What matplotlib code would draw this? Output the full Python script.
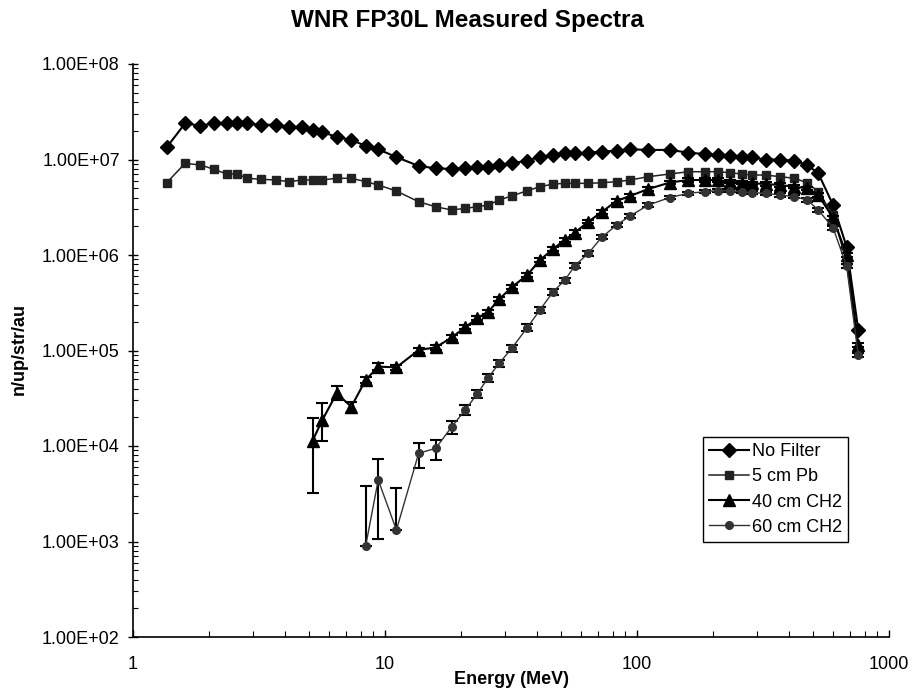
import numpy as np
import matplotlib
matplotlib.use("Agg")
from matplotlib import pyplot as plt
from matplotlib import ticker

plt.rcParams['font.family'] = ['Liberation Sans', 'DejaVu Sans']

# energy bins (MeV), shared by all four spectra
energy = [1.36, 1.61, 1.85, 2.10, 2.35, 2.59, 2.84, 3.22, 3.69, 4.17, 4.67, 5.16, 5.64,
          6.43, 7.35, 8.38, 9.40, 11.1, 13.6, 15.9, 18.4, 20.8, 23.2, 25.7, 28.4, 31.8,
          36.7, 41.2, 46.5, 51.8, 56.7, 64.1, 72.4, 83.0, 93.8, 111, 135, 160, 186, 210,
          234, 260, 285, 324, 369, 421, 474, 524, 600, 679, 755]

no_filter = [1.34e7, 2.39e7, 2.26e7, 2.39e7, 2.39e7, 2.39e7, 2.39e7, 2.31e7, 2.31e7, 2.20e7,
             2.20e7, 2.04e7, 1.93e7, 1.73e7, 1.60e7, 1.39e7, 1.28e7, 1.06e7, 8.55e6, 8.09e6,
             7.96e6, 8.09e6, 8.28e6, 8.41e6, 8.69e6, 9.12e6, 9.71e6, 1.07e7, 1.11e7, 1.16e7,
             1.16e7, 1.18e7, 1.21e7, 1.24e7, 1.28e7, 1.26e7, 1.26e7, 1.18e7, 1.14e7, 1.11e7,
             1.09e7, 1.07e7, 1.05e7, 1.00e7, 1.00e7, 9.71e6, 8.75e6, 7.16e6, 3.34e6, 1.22e6,
             1.64e5]

pb5 = [5.71e6, 9.12e6, 8.76e6, 7.89e6, 7.05e6, 7.05e6, 6.36e6, 6.21e6, 6.10e6, 5.86e6,
       6.10e6, 6.10e6, 6.10e6, 6.36e6, 6.36e6, 5.86e6, 5.41e6, 4.68e6, 3.61e6, 3.20e6,
       2.96e6, 3.08e6, 3.20e6, 3.34e6, 3.77e6, 4.15e6, 4.71e6, 5.19e6, 5.54e6, 5.63e6,
       5.63e6, 5.63e6, 5.71e6, 5.85e6, 6.10e6, 6.61e6, 7.05e6, 7.45e6, 7.45e6, 7.45e6,
       7.27e6, 7.05e6, 6.88e6, 6.88e6, 6.61e6, 6.36e6, 5.71e6, 4.60e6, 2.62e6, 8.45e5,
       1.01e5]

# 40 cm CH2 starts at 5.16 MeV
ch40 = [1.14e4, 1.87e4, 3.56e4, 2.58e4, 4.91e4, 6.77e4, 6.67e4, 1.01e5, 1.08e5, 1.37e5,
        1.75e5, 2.17e5, 2.55e5, 3.44e5, 4.59e5, 6.17e5, 8.86e5, 1.16e6, 1.44e6, 1.72e6,
        2.23e6, 2.82e6, 3.68e6, 4.15e6, 4.91e6, 5.74e6, 6.10e6, 6.10e6, 6.10e6, 5.85e6,
        5.71e6, 5.63e6, 5.54e6, 5.41e6, 5.19e6, 4.99e6, 4.25e6, 2.44e6, 1.00e6, 1.14e5]
ch40_up = [74, 50, 19, 13, 8, 9, 6, 6, 6, 6,
           5, 5, 5, 5, 5, 5, 5, 5, 5, 5,
           4, 4, 4, 4, 4, 4, 4, 4, 4, 4,
           4, 4, 4, 4, 4, 4, 4, 4, 4, 4]
ch40_dn = [72, 40, 15, 14, 8, 8, 6, 6, 6, 6,
           5, 5, 5, 5, 5, 5, 5, 5, 5, 5,
           4, 4, 4, 4, 4, 4, 4, 4, 4, 4,
           4, 4, 4, 4, 4, 4, 4, 4, 4, 4]

# 60 cm CH2 starts at 8.38 MeV
ch60 = [8.97e2, 4.41e3, 1.32e3, 8.39e3, 9.46e3, 1.59e4, 2.38e4, 3.50e4, 5.21e4, 7.35e4,
        1.05e5, 1.74e5, 2.66e5, 4.13e5, 5.47e5, 7.76e5, 1.04e6, 1.53e6, 2.06e6, 2.56e6,
        3.34e6, 4.00e6, 4.43e6, 4.60e6, 4.71e6, 4.71e6, 4.60e6, 4.49e6, 4.43e6, 4.25e6,
        4.08e6, 3.77e6, 2.96e6, 1.92e6, 7.67e5, 8.97e4]
ch60_up = [325, 66, 177, 28, 23, 15, 12, 10, 10, 9, 8, 8, 7, 7, 6, 6, 5, 5, 5, 5,
           4, 4, 4, 4, 4, 4, 4, 4, 4, 4, 4, 4, 4, 4, 4, 4]
ch60_dn = [0, 76, 0, 30, 25, 15, 12, 10, 10, 9, 8, 8, 7, 7, 6, 6, 5, 5, 5, 5,
           4, 4, 4, 4, 4, 4, 4, 4, 4, 4, 4, 4, 4, 4, 4, 4]

xticks = [1, 10, 100, 1000]
yticks = [1e2, 1e3, 1e4, 1e5, 1e6, 1e7, 1e8]

ch40_e = energy[len(energy) - len(ch40):]
ch60_e = energy[len(energy) - len(ch60):]

fig = plt.figure(figsize=(9.15, 6.94), dpi=100)
ax = fig.add_axes([133/915, 57/694, 756/915, 573/694])

ax.plot(energy, no_filter, '-', color='black', lw=1.5, marker='D', ms=7.5, label='No Filter')
ax.plot(energy, pb5, '-', color='#222222', lw=1.1, marker='s', ms=6, label='5 cm Pb')

y40 = np.array(ch40)
ax.errorbar(ch40_e, y40, yerr=[y40*np.array(ch40_dn)/100, y40*np.array(ch40_up)/100],
            fmt='none', ecolor='black', elinewidth=1.5, capsize=4.5, capthick=1.5)
ax.plot(ch40_e, ch40, '-', color='black', lw=1.5, marker='^', ms=8, label='40 cm CH2')

y60 = np.array(ch60)
ax.errorbar(ch60_e, y60, yerr=[y60*np.array(ch60_dn)/100, y60*np.array(ch60_up)/100],
            fmt='none', ecolor='black', elinewidth=1.5, capsize=4.5, capthick=1.5)
ax.plot(ch60_e, ch60, '-', color='#333333', lw=1.0, marker='o', ms=5.5, label='60 cm CH2')

ax.set_xscale('log')
ax.set_yscale('log')
ax.set_xlim(1, 1000)
ax.set_ylim(1e2, 1e8)

ax.spines['top'].set_visible(False)
ax.spines['right'].set_visible(False)
for s in ('left', 'bottom'):
    ax.spines[s].set_linewidth(1.2)

ax.yaxis.set_major_locator(ticker.FixedLocator(yticks))
ax.yaxis.set_minor_locator(ticker.LogLocator(base=10, subs=np.arange(2, 10), numticks=10))
ax.yaxis.set_minor_formatter(ticker.NullFormatter())
ax.yaxis.set_major_formatter(ticker.FuncFormatter(lambda v, p: f"{v:.2E}"))
ax.xaxis.set_major_locator(ticker.FixedLocator(xticks))
ax.xaxis.set_minor_locator(ticker.LogLocator(base=10, subs=np.arange(2, 10), numticks=10))
ax.xaxis.set_major_formatter(ticker.FuncFormatter(lambda v, p: f"{v:g}"))
ax.xaxis.set_minor_formatter(ticker.NullFormatter())

ax.tick_params(axis='y', which='major', direction='inout', length=7, width=1, labelsize=13, pad=6)
ax.tick_params(axis='y', which='minor', direction='in', length=3.5, width=0.8)
ax.tick_params(axis='x', which='major', direction='in', length=5, width=1, labelsize=13, pad=14)
ax.tick_params(axis='x', which='minor', direction='in', length=4, width=0.8)

fig.text(467/915, 1 - 21/694, 'WNR FP30L Measured Spectra', fontsize=17.5,
         fontweight='bold', ha='center', va='center')
fig.text(511/915, 1 - 680/694, 'Energy (MeV)', fontsize=13, fontweight='bold',
         ha='center', va='center')
fig.text(19/915, 1 - 349/694, 'n/up/str/au', fontsize=13, fontweight='bold',
         rotation=90, ha='center', va='center')

leg = ax.legend(loc='upper left', bbox_to_anchor=(0.754, 0.349), fontsize=13,
                frameon=True, fancybox=False, edgecolor='black', framealpha=1,
                borderpad=0.35, handlelength=2.2, handletextpad=0.15,
                labelspacing=0.45, borderaxespad=0)
leg.get_frame().set_linewidth(1.0)

fig.savefig('out.png', dpi=100)
